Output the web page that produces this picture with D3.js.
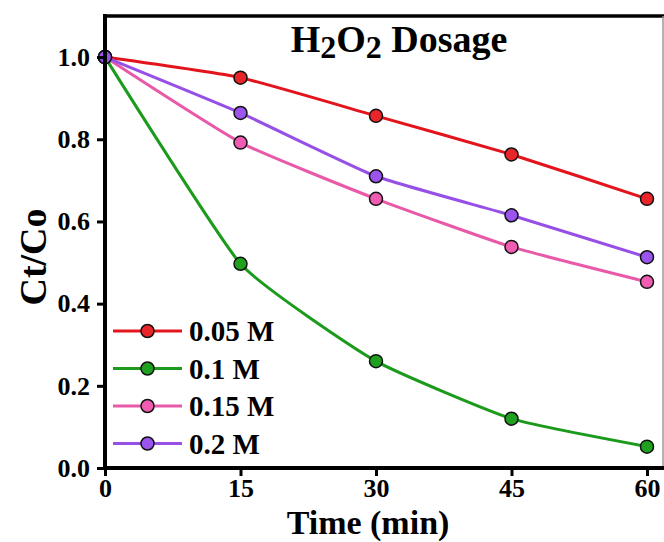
<!DOCTYPE html>
<html>
<head>
<meta charset="utf-8">
<script src="https://cdn.jsdelivr.net/npm/d3@7"></script>
<style>
  body { margin: 0; background: #fff; }
  svg { display: block; }
  text { font-family: "Liberation Serif", "Times New Roman", serif; font-weight: bold; fill: #000; }
</style>
</head>
<body>
<div id="chart"></div>
<script>
// data
var times = [0, 15, 30, 45, 60];
var seriesNames = ['0.05 M', '0.1 M', '0.15 M', '0.2 M'];
var conc005 = [1.0, 0.950, 0.857, 0.763, 0.655];
var conc010 = [1.0, 0.497, 0.260, 0.120, 0.052];
var conc015 = [1.0, 0.792, 0.655, 0.538, 0.453];
var conc020 = [1.0, 0.864, 0.710, 0.615, 0.513];
var lineColors = ['#e3141c', '#1c9a1c', '#e85aa8', '#9650e6'];
var dotColors  = ['#e8262a', '#1fa01f', '#f05cb2', '#9b55ee'];
var xTicks = [0, 15, 30, 45, 60];
var yTicks = [0, 0.2, 0.4, 0.6, 0.8, 1.0];

var width = 664, height = 542;
var pad = { left: 105, right: 17, top: 16, bottom: 74 };

var series = [conc005, conc010, conc015, conc020].map(function(v, i){
  return {
    name: seriesNames[i],
    line: lineColors[i],
    dot: dotColors[i],
    values: v.map(function(y, j){ return { t: times[j], c: y }; })
  };
});

var svg = d3.select('#chart')
  .append('svg')
  .attr('width', width)
  .attr('height', height);

var x_scale = d3.scaleLinear()
  .domain([0, 60])
  .range([pad.left, width - pad.right]);

var y_scale = d3.scaleLinear()
  .domain([0, 1.1])
  .range([height - pad.bottom, pad.top]);

// frame: top line and thin right border
svg.append('line')
  .attr('x1', pad.left).attr('x2', width)
  .attr('y1', pad.top).attr('y2', pad.top)
  .attr('stroke', '#000').attr('stroke-width', 3.5);
svg.append('line')
  .attr('x1', width - 1).attr('x2', width - 1)
  .attr('y1', pad.top).attr('y2', height - pad.bottom)
  .attr('stroke', '#999').attr('stroke-width', 1.5);

// mild spline, reference lines are almost straight
var lineFunction = d3.line()
  .x(function(d){ return x_scale(d.t); })
  .y(function(d){ return y_scale(d.c); })
  .curve(d3.curveCardinal.tension(0.55));

var gen_svg = svg.selectAll('g.series')
  .data(series)
  .enter()
  .append('g')
  .attr('class', 'series');

gen_svg.append('path')
  .attr('d', function(d){ return lineFunction(d.values); })
  .attr('stroke', function(d){ return d.line; })
  .attr('stroke-width', 3)
  .attr('fill', 'none');

gen_svg.selectAll('circle')
  .data(function(d){ return d.values.map(function(v){ return { t: v.t, c: v.c, dot: d.dot }; }); })
  .enter()
  .append('circle')
  .attr('cx', function(d){ return x_scale(d.t); })
  .attr('cy', function(d){ return y_scale(d.c); })
  .attr('r', 6.5)
  .attr('fill', function(d){ return d.dot; })
  .attr('stroke', '#111')
  .attr('stroke-width', 1.5);

// axes
var xAxis = svg.append('g')
  .attr('transform', 'translate(0,' + (height - pad.bottom) + ')')
  .call(d3.axisBottom(x_scale).tickValues(xTicks).tickSize(8).tickPadding(3).tickSizeOuter(0));

var yAxis = svg.append('g')
  .attr('transform', 'translate(' + pad.left + ',0)')
  .call(d3.axisLeft(y_scale).tickValues(yTicks).tickFormat(d3.format('.1f')).tickSize(8).tickPadding(7).tickSizeOuter(0));

xAxis.select('.domain').attr('d', 'M' + (pad.left - 2) + ',0H' + width);
yAxis.select('.domain').attr('d', 'M0,' + (pad.top - 2) + 'V' + (height - pad.bottom + 2));

svg.selectAll('.domain').attr('stroke', '#000').attr('stroke-width', 4);
svg.selectAll('.tick line').attr('stroke', '#000').attr('stroke-width', 3);
svg.selectAll('.tick text')
  .style('font-family', '"Liberation Serif", serif')
  .style('font-weight', 'bold')
  .style('font-size', '26px')
  .attr('fill', '#000');

// axis titles
svg.append('text')
  .attr('x', 368)
  .attr('y', 534)
  .attr('text-anchor', 'middle')
  .style('font-size', '34px')
  .text('Time (min)');

svg.append('text')
  .attr('transform', 'translate(46,257) rotate(-90)')
  .attr('text-anchor', 'middle')
  .style('font-size', '38px')
  .text('Ct/Co');

// title with subscripts
var title = svg.append('text')
  .attr('x', 399)
  .attr('y', 52)
  .attr('text-anchor', 'middle')
  .style('font-size', '38px');
title.append('tspan').text('H');
title.append('tspan').attr('dy', 6).style('font-size', '32px').text('2');
title.append('tspan').attr('dy', -6).text('O');
title.append('tspan').attr('dy', 6).style('font-size', '32px').text('2');
title.append('tspan').attr('dy', -6).text(' Dosage');

// legend
var legend = svg.selectAll('g.legend')
  .data(series)
  .enter()
  .append('g')
  .attr('class', 'legend')
  .attr('transform', function(d, i){ return 'translate(113,' + (331 + i * 37.5) + ')'; });

legend.append('line')
  .attr('x1', 0).attr('x2', 69)
  .attr('stroke', function(d){ return d.line; })
  .attr('stroke-width', 3);

legend.append('circle')
  .attr('cx', 34.5)
  .attr('r', 6.5)
  .attr('fill', function(d){ return d.dot; })
  .attr('stroke', '#111')
  .attr('stroke-width', 1.5);

legend.append('text')
  .attr('x', 76)
  .attr('y', 10)
  .style('font-size', '29px')
  .text(function(d){ return d.name; });
</script>
</body>
</html>
